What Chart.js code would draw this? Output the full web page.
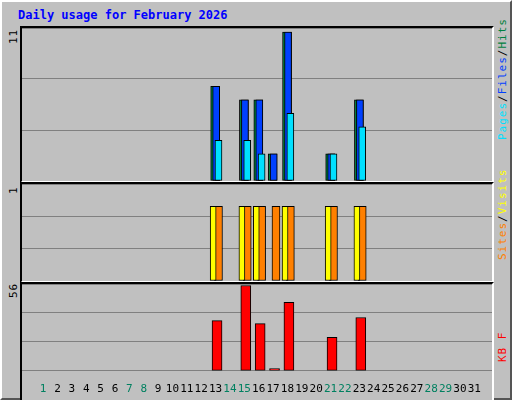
<!DOCTYPE html>
<html>
<head>
<meta charset="utf-8">
<script src="https://cdn.jsdelivr.net/npm/chart.js@4/dist/chart.umd.min.js"></script>
<style>
  body { margin: 0; background: #fff; }
  #frame { position: relative; width: 508px; height: 396px; background: #c0c0c0; border: 2px solid #000; border-color: #fff #555 #555 #fff; font-family: "DejaVu Sans Mono", monospace; }
  .panel { position: absolute; left: 18px; width: 470px; background: #c0c0c0; border-top: 2px solid #000; border-left: 2px solid #000; border-bottom: 2px solid #fff; border-right: 2px solid #fff; }
  .panel canvas { display: block; }
  #title { position: absolute; left: 16px; top: 6px; color: #0000ff; font-weight: bold; font-size: 12px; }
  .lab { position: absolute; transform: rotate(-90deg); transform-origin: left top; font-size: 11px; white-space: nowrap; letter-spacing: 1px; }
</style>
</head>
<body>
<div id="frame">
  <div id="title">Daily usage for February 2026</div>
  <div class="panel" style="top:24px;height:153px"><canvas id="c1"></canvas></div>
  <div class="panel" style="top:180px;height:97px"><canvas id="c2"></canvas></div>
  <div class="panel" style="top:280px;height:116px;border-bottom:none"><canvas id="c3"></canvas></div>
  <div class="lab" style="left:5px;top:42px">11</div>
  <div class="lab" style="left:5px;top:192px">1</div>
  <div class="lab" style="left:5px;top:296px">56</div>
  <div class="lab" style="left:494px;top:138px"><span style="color:#00e0ff">Pages</span>/<span style="color:#0040ff">Files</span>/<span style="color:#008040">Hits</span></div>
  <div class="lab" style="left:494px;top:258px"><span style="color:#ff8000">Sites</span>/<span style="color:#ffff00">Visits</span></div>
  <div class="lab" style="left:494px;top:360px"><span style="color:#ff0000">KB F</span></div>
</div>
<script>
// dados diarios (fevereiro 2026)
var days = [13, 15, 16, 17, 18, 21, 23];
var hits = [7, 6, 6, 2, 11, 2, 6];
var files = [7, 6, 6, 2, 11, 2, 6];
var pages = [3, 3, 2, 0, 5, 2, 4];
var visits = [1, 1, 1, 0, 1, 1, 1];
var sites = [1, 1, 1, 1, 1, 1, 1];
var kbytes = [33, 56, 31, 1.5, 45, 22, 35];
var weekendDays = [1, 7, 8, 14, 15, 21, 22, 28, 29];

function pts(vals, off) {
  var out = [];
  for (var i = 0; i < days.length; i++) {
    if (vals[i] > 0) out.push({ x: days[i] + off, y: vals[i] });
  }
  return out;
}

// order maior = desenhado por baixo
function ds(label, vals, off, color, w, order) {
  return { label: label, data: pts(vals, off), backgroundColor: color, borderColor: '#000', borderWidth: 1, borderSkipped: false, barThickness: w, grouped: false, order: order };
}

function makeChart(id, datasets, max, showX) {
  new Chart(document.getElementById(id), {
    type: 'bar',
    data: { datasets: datasets },
    options: {
      responsive: false,
      animation: false,
      layout: { padding: 0 },
      plugins: { legend: { display: false }, tooltip: { enabled: false } },
      scales: {
        x: {
          type: 'linear', min: 0.06, max: 31.7, display: showX,
          grid: { display: false }, border: { display: false },
          afterBuildTicks: function(ax) { ax.ticks = []; for (var d = 1; d <= 31; d++) ax.ticks.push({ value: d }); },
          ticks: {
            autoSkip: false, maxRotation: 0, padding: 4,
            font: { family: 'DejaVu Sans Mono', size: 11 },
            color: function(c) { return weekendDays.indexOf(c.tick.value) >= 0 ? '#008060' : '#000'; }
          }
        },
        y: {
          display: true, min: 0, max: max,
          afterBuildTicks: function(ax) { ax.ticks = [{ value: 0 }, { value: max / 3 }, { value: 2 * max / 3 }, { value: max }]; },
          afterFit: function(s) { s.width = 0; },
          ticks: { display: false },
          grid: { color: '#808080', drawTicks: false, lineWidth: 1 },
          border: { display: false }
        }
      }
    }
  });
}

document.getElementById('c1').width = 470; document.getElementById('c1').height = 153;
document.getElementById('c2').width = 470; document.getElementById('c2').height = 97;
document.getElementById('c3').width = 470; document.getElementById('c3').height = 116;

makeChart('c1', [
  ds('Hits', hits, -0.03, '#008040', 9, 3),
  ds('Files', files, 0.04, '#0040ff', 7, 2),
  ds('Pages', pages, 0.2, '#00e0ff', 7, 1)
], 11.3, false);

makeChart('c2', [
  ds('Visits', visits, -0.17, '#ffff00', 6, 1),
  ds('Sites', sites, 0.2, '#ff8000', 8, 2)
], 1.3, false);

makeChart('c3', [
  ds('KB F', kbytes, 0.1, '#ff0000', 10, 1)
], 57, true);
</script>
</body>
</html>
